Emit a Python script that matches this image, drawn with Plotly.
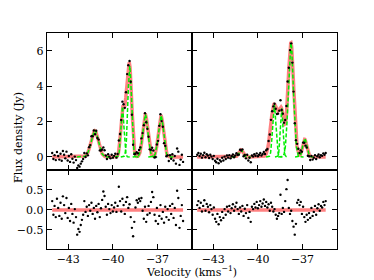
import numpy as np
import plotly.graph_objects as go

# ---------------- data ----------------
vel_start = -44.08
vel_step = 0.08
n_left = 111
n_right = 109

x_ticks = [-43, -40, -37]
flux_ticks = [0, 2, 4, 6]
resid_ticks = [-0.5, 0.0, 0.5]

# observed spectra (Jy)
flux_left = [0.22, -0.12, 0.10, -0.18, 0.28, 0.05, -0.15, 0.18, -0.22, 0.34,
             0.12, -0.08, 0.30, -0.20, 0.05, -0.28, 0.15, -0.10, -0.32, 0.02,
             -0.18, -0.62, -0.48, -0.55, -0.38, -0.25, -0.12, 0.22, 0.00, 0.20,
             0.09, 0.55, 0.67, 1.17, 1.17, 1.50, 1.28, 1.48, 1.07, 0.98,
             0.37, 0.36, 0.42, 0.54, 0.38, 0.08, -0.12, 0.15, 0.02, -0.08,
             0.12, -0.04, 0.06, 0.18, -0.04, 0.17, 0.93, 1.30, 2.09, 3.13,
             2.98, 2.78, 3.66, 4.69, 5.19, 5.43, 4.26, 2.39, 0.69, 0.16,
             0.18, 0.27, 0.21, 0.39, 0.54, 1.05, 1.35, 1.80, 2.48, 1.96,
             1.59, 1.14, 0.43, 0.40, 0.52, 0.36, -0.03, 0.00, 0.70, 0.91,
             1.76, 2.42, 2.03, 1.71, 0.78, 0.63, 0.04, 0.09, -0.23, 0.10,
             -0.10, 0.15, -0.20, 0.05, -0.38, 0.48, 0.30, -0.45, -0.15, 0.12,
             -0.28]
flux_right = [0.12, 0.22, 0.05, 0.18, -0.04, 0.10, 0.24, -0.02, 0.15, 0.08,
              -0.06, 0.12, 0.02, -0.12, 0.06, -0.22, -0.30, -0.10, -0.36, -0.18,
              -0.26, -0.05, -0.20, 0.02, -0.12, 0.08, -0.04, 0.10, -0.08, 0.04,
              0.14, -0.02, 0.08, 0.21, 0.12, 0.13, 0.41, 0.36, 0.43, 0.04,
              0.11, -0.08, 0.12, -0.20, -0.05, -0.30, 0.08, 0.02, 0.15, 0.06,
              0.20, 0.04, 0.12, 0.22, 0.08, 0.17, 0.28, 0.17, 0.38, 0.45,
              0.90, 1.27, 2.10, 2.59, 2.86, 3.01, 2.73, 2.43, 2.45, 2.62,
              3.21, 2.66, 2.45, 1.94, 2.09, 2.88, 4.27, 5.05, 6.05, 6.43,
              5.34, 3.70, 1.91, 0.95, 0.74, 0.46, 0.22, 0.37, 0.30, 0.81,
              0.80, 0.64, 0.53, 0.07, 0.04, -0.17, 0.05, -0.15, -0.05, 0.10,
              -0.12, 0.04, 0.14, -0.02, 0.10, 0.06, 0.20, 0.12, 0.22]

# residuals (Jy)
resid_left = [0.22, -0.12, 0.10, -0.18, 0.28, 0.05, -0.15, 0.18, -0.22, 0.34,
              0.12, -0.08, 0.30, -0.20, 0.05, -0.28, 0.15, -0.10, -0.32, 0.02,
              -0.18, -0.62, -0.48, -0.55, -0.38, -0.25, -0.12, 0.22, -0.05, 0.08,
              -0.15, 0.12, -0.02, 0.18, -0.10, 0.05, -0.22, 0.10, -0.06, 0.15,
              -0.18, 0.04, 0.25, 0.46, 0.35, 0.08, -0.12, 0.15, 0.02, -0.08,
              0.12, -0.04, 0.06, 0.18, -0.05, 0.10, 0.58, 0.22, -0.04, 0.28,
              0.12, -0.10, 0.20, 0.32, 0.05, 0.14, -0.18, -0.45, -0.66, -0.30,
              0.06, 0.24, 0.18, 0.28, 0.22, 0.30, -0.02, -0.22, 0.08, -0.30,
              -0.12, 0.10, -0.08, 0.20, 0.45, 0.32, -0.12, -0.28, 0.05, -0.35,
              -0.15, 0.12, -0.22, -0.05, -0.32, 0.08, -0.18, 0.02, -0.25, 0.10,
              -0.10, 0.15, -0.20, 0.05, -0.38, 0.48, 0.30, -0.45, -0.15, 0.12,
              -0.28]
resid_right = [0.12, 0.22, 0.05, 0.18, -0.04, 0.10, 0.24, -0.02, 0.15, 0.08,
               -0.06, 0.12, 0.02, -0.12, 0.06, -0.22, -0.30, -0.10, -0.36, -0.18,
               -0.26, -0.05, -0.20, 0.02, -0.12, 0.08, -0.04, 0.10, -0.08, 0.04,
               0.14, -0.02, 0.08, 0.18, 0.02, -0.10, 0.06, -0.04, 0.10, -0.15,
               0.03, -0.08, 0.12, -0.20, -0.05, -0.30, 0.08, 0.02, 0.15, 0.06,
               0.20, 0.04, 0.12, 0.22, 0.08, 0.16, 0.26, 0.10, 0.20, 0.06,
               0.14, -0.02, 0.18, 0.08, -0.04, 0.02, -0.12, -0.22, -0.15, -0.08,
               0.38, -0.10, 0.05, -0.05, 0.22, 0.52, 0.75, 0.05, -0.10, -0.02,
               -0.28, -0.42, -0.62, -0.35, 0.18, 0.25, 0.12, 0.20, -0.10, 0.08,
               -0.18, -0.30, -0.12, -0.25, -0.08, -0.20, 0.05, -0.15, -0.05, 0.10,
               -0.12, 0.04, 0.14, -0.02, 0.10, 0.06, 0.20, 0.12, 0.22]

# total-fit Gaussian parameters (amplitude Jy, centre km/s, sigma km/s)
fit_amp_left = [1.50, 2.60, 2.40, 4.60, 2.40, 2.35]
fit_cen_left = [-41.22, -39.36, -39.08, -38.86, -37.82, -36.77]
fit_sig_left = [0.24, 0.12, 0.13, 0.14, 0.17, 0.17]
fit_amp_right = [0.40, 2.90, 2.55, 6.45, 1.00]
fit_cen_right = [-41.13, -38.92, -38.42, -37.78, -36.85]
fit_sig_right = [0.14, 0.22, 0.19, 0.19, 0.14]

# individual components
comp_amp_left = [1.50, 2.85, 5.15, 2.40, 2.35]
comp_cen_left = [-41.22, -39.36, -38.87, -37.82, -36.77]
comp_sig_left = [0.24, 0.10, 0.12, 0.17, 0.17]
comp_amp_right = [0.40, 2.95, 2.75, 6.45, 1.05]
comp_cen_right = [-41.13, -38.90, -38.40, -37.78, -36.85]
comp_sig_right = [0.13, 0.11, 0.09, 0.17, 0.13]

# ---------------- figure ----------------
FONT = "DejaVu Serif"
RED = "rgba(255,95,95,0.78)"
GREEN = "#00ee00"

vel_left = np.round(vel_start + vel_step * np.arange(n_left), 2)
vel_right = np.round(vel_start + vel_step * np.arange(n_right), 2)


def gauss(v, a, c, s):
    return a * np.exp(-(v - c) ** 2 / (2 * s ** 2))


fig = go.Figure()

panels = [
    (vel_left, flux_left, resid_left, fit_amp_left, fit_cen_left, fit_sig_left,
     comp_amp_left, comp_cen_left, comp_sig_left, "x", "y", "x3", "y3"),
    (vel_right, flux_right, resid_right, fit_amp_right, fit_cen_right, fit_sig_right,
     comp_amp_right, comp_cen_right, comp_sig_right, "x2", "y2", "x4", "y4"),
]

for (vel, flux, resid, fa, fc, fs, ca, cc, cs, xa, ya, xb, yb) in panels:
    vfine = np.linspace(vel[0], vel[-1], 600)
    total = sum(gauss(vfine, a, c, s) for a, c, s in zip(fa, fc, fs))
    fig.add_trace(go.Scatter(x=vfine, y=total, mode="lines",
                             line=dict(color=RED, width=3.5),
                             xaxis=xa, yaxis=ya, hoverinfo="skip"))
    for a, c, s in zip(ca, cc, cs):
        vc = np.linspace(c - 5 * s, c + 5 * s, 120)
        fig.add_trace(go.Scatter(x=vc, y=gauss(vc, a, c, s), mode="lines",
                                 line=dict(color=GREEN, width=1.5, dash="4px,2px"),
                                 xaxis=xa, yaxis=ya, hoverinfo="skip"))
    fig.add_trace(go.Scatter(x=vel, y=flux, mode="markers",
                             marker=dict(color="black", size=2.4),
                             xaxis=xa, yaxis=ya))
    fig.add_trace(go.Scatter(x=[vel[0], vel[-1]], y=[0, 0], mode="lines",
                             line=dict(color=RED, width=3.5),
                             xaxis=xb, yaxis=yb, hoverinfo="skip"))
    fig.add_trace(go.Scatter(x=vel, y=resid, mode="markers",
                             marker=dict(color="black", size=2.4),
                             xaxis=xb, yaxis=yb))

W, H = 374, 280
xl0, xmid, xr1 = 46.7 / W, 191.7 / W, 336.7 / W
ytop1, ymid, ybot0 = 1 - 33.3 / H, 1 - 170 / H, 1 - 249 / H

axis_common = dict(showline=True, linecolor="black", linewidth=1.2, mirror="ticks",
                   ticks="inside", ticklen=5, tickwidth=1, tickcolor="black",
                   showgrid=False, zeroline=False,
                   tickfont=dict(family=FONT, size=11, color="black"))
xr = [-44.45, -34.7]

layout = dict(
    width=W, height=H, margin=dict(l=0, r=0, t=0, b=0),
    paper_bgcolor="white", plot_bgcolor="white", showlegend=False,
    xaxis=dict(domain=[xl0, xmid], range=xr, tickvals=x_ticks, showticklabels=False,
               anchor="y", **axis_common),
    xaxis2=dict(domain=[xmid, xr1], range=xr, tickvals=x_ticks, showticklabels=False,
                anchor="y2", **axis_common),
    xaxis3=dict(domain=[xl0, xmid], range=xr, tickvals=x_ticks, anchor="y3",
                **axis_common),
    xaxis4=dict(domain=[xmid, xr1], range=xr, tickvals=x_ticks, anchor="y4",
                **axis_common),
    yaxis=dict(domain=[ymid, ytop1], range=[-0.74, 7.0], tickvals=flux_ticks,
               anchor="x", **axis_common),
    yaxis2=dict(domain=[ymid, ytop1], range=[-0.74, 7.0], tickvals=flux_ticks,
                showticklabels=False, anchor="x2", **axis_common),
    yaxis3=dict(domain=[ybot0, ymid], range=[-0.98, 1.0], tickvals=resid_ticks,
                tickformat=".1f", anchor="x3", **axis_common),
    yaxis4=dict(domain=[ybot0, ymid], range=[-0.98, 1.0], tickvals=resid_ticks,
                showticklabels=False, anchor="x4", **axis_common),
    annotations=[
        dict(text="Flux density (Jy)", x=18 / W, y=1 - 138 / H, xref="paper", yref="paper",
             textangle=-90, showarrow=False, xanchor="center", yanchor="middle",
             font=dict(family=FONT, size=11, color="black")),
        dict(text="Velocity (kms<sup>−1</sup>)", x=191.5 / W, y=1 - 271.5 / H,
             xref="paper", yref="paper", showarrow=False, xanchor="center",
             yanchor="middle", font=dict(family=FONT, size=11, color="black")),
    ],
)
fig.update_layout(**layout)
fig.write_html(
    "out.html",
    config={"displayModeBar": False},
    post_script="document.body.style.margin='0';document.body.style.overflow='hidden';",
)
